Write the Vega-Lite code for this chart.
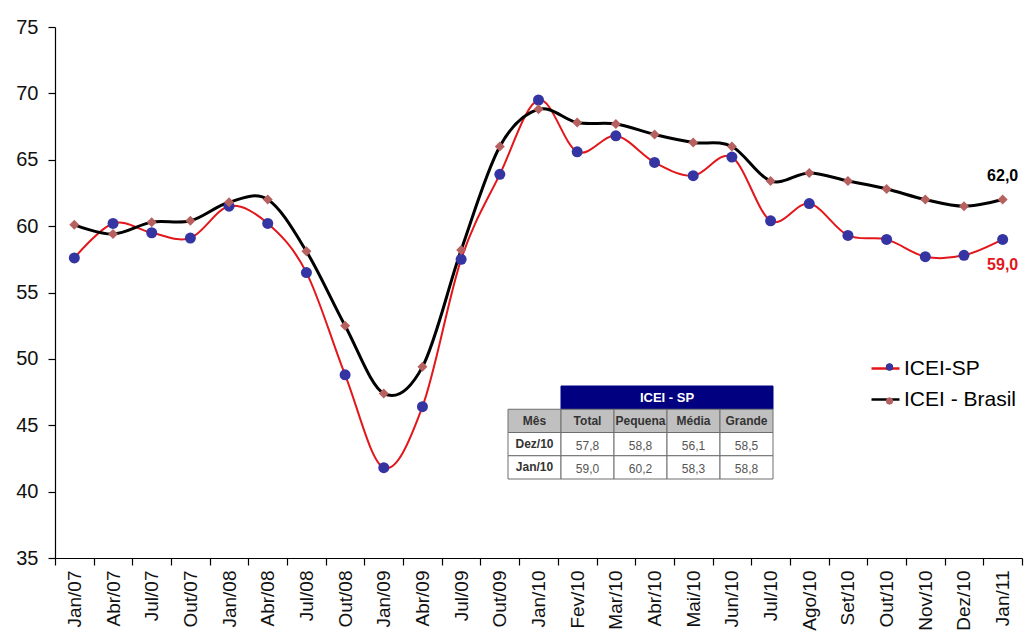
{
  "$schema": "https://vega.github.io/schema/vega-lite/v6.json",
  "width": 967,
  "height": 531,
  "autosize": {"type": "none"},
  "padding": {"left": 55, "top": 27, "right": 12, "bottom": 76},
  "background": "white",
  "config": {
    "view": {"stroke": null},
    "font": "Liberation Sans",
    "locale": {"number": {"decimal": ",", "thousands": ".", "grouping": [3], "currency": ["R$", ""]}}
  },
  "datasets": {
    "icei": [
      {"mes": "Jan/07", "serie": "ICEI-SP", "valor": 57.6},
      {"mes": "Abr/07", "serie": "ICEI-SP", "valor": 60.2},
      {"mes": "Jul/07", "serie": "ICEI-SP", "valor": 59.5},
      {"mes": "Out/07", "serie": "ICEI-SP", "valor": 59.1},
      {"mes": "Jan/08", "serie": "ICEI-SP", "valor": 61.5},
      {"mes": "Abr/08", "serie": "ICEI-SP", "valor": 60.2},
      {"mes": "Jul/08", "serie": "ICEI-SP", "valor": 56.5},
      {"mes": "Out/08", "serie": "ICEI-SP", "valor": 48.8},
      {"mes": "Jan/09", "serie": "ICEI-SP", "valor": 41.8},
      {"mes": "Abr/09", "serie": "ICEI-SP", "valor": 46.4},
      {"mes": "Jul/09", "serie": "ICEI-SP", "valor": 57.5},
      {"mes": "Out/09", "serie": "ICEI-SP", "valor": 63.9},
      {"mes": "Jan/10", "serie": "ICEI-SP", "valor": 69.5},
      {"mes": "Fev/10", "serie": "ICEI-SP", "valor": 65.6},
      {"mes": "Mar/10", "serie": "ICEI-SP", "valor": 66.8},
      {"mes": "Abr/10", "serie": "ICEI-SP", "valor": 64.8},
      {"mes": "Mai/10", "serie": "ICEI-SP", "valor": 63.8},
      {"mes": "Jun/10", "serie": "ICEI-SP", "valor": 65.2},
      {"mes": "Jul/10", "serie": "ICEI-SP", "valor": 60.4},
      {"mes": "Ago/10", "serie": "ICEI-SP", "valor": 61.7},
      {"mes": "Set/10", "serie": "ICEI-SP", "valor": 59.3},
      {"mes": "Out/10", "serie": "ICEI-SP", "valor": 59.0},
      {"mes": "Nov/10", "serie": "ICEI-SP", "valor": 57.7},
      {"mes": "Dez/10", "serie": "ICEI-SP", "valor": 57.8},
      {"mes": "Jan/11", "serie": "ICEI-SP", "valor": 59.0},
      {"mes": "Jan/07", "serie": "ICEI - Brasil", "valor": 60.1},
      {"mes": "Abr/07", "serie": "ICEI - Brasil", "valor": 59.4},
      {"mes": "Jul/07", "serie": "ICEI - Brasil", "valor": 60.3},
      {"mes": "Out/07", "serie": "ICEI - Brasil", "valor": 60.4},
      {"mes": "Jan/08", "serie": "ICEI - Brasil", "valor": 61.8},
      {"mes": "Abr/08", "serie": "ICEI - Brasil", "valor": 62.0},
      {"mes": "Jul/08", "serie": "ICEI - Brasil", "valor": 58.1},
      {"mes": "Out/08", "serie": "ICEI - Brasil", "valor": 52.5},
      {"mes": "Jan/09", "serie": "ICEI - Brasil", "valor": 47.4},
      {"mes": "Abr/09", "serie": "ICEI - Brasil", "valor": 49.4},
      {"mes": "Jul/09", "serie": "ICEI - Brasil", "valor": 58.2},
      {"mes": "Out/09", "serie": "ICEI - Brasil", "valor": 66.0},
      {"mes": "Jan/10", "serie": "ICEI - Brasil", "valor": 68.8},
      {"mes": "Fev/10", "serie": "ICEI - Brasil", "valor": 67.8},
      {"mes": "Mar/10", "serie": "ICEI - Brasil", "valor": 67.7},
      {"mes": "Abr/10", "serie": "ICEI - Brasil", "valor": 66.9},
      {"mes": "Mai/10", "serie": "ICEI - Brasil", "valor": 66.3},
      {"mes": "Jun/10", "serie": "ICEI - Brasil", "valor": 66.0},
      {"mes": "Jul/10", "serie": "ICEI - Brasil", "valor": 63.4},
      {"mes": "Ago/10", "serie": "ICEI - Brasil", "valor": 64.0},
      {"mes": "Set/10", "serie": "ICEI - Brasil", "valor": 63.4},
      {"mes": "Out/10", "serie": "ICEI - Brasil", "valor": 62.8},
      {"mes": "Nov/10", "serie": "ICEI - Brasil", "valor": 62.0},
      {"mes": "Dez/10", "serie": "ICEI - Brasil", "valor": 61.5},
      {"mes": "Jan/11", "serie": "ICEI - Brasil", "valor": 62.0}
    ],
    "tabela": [
      {"linha": "ICEI - SP", "coluna": "Total", "texto": ""},
      {"linha": "ICEI - SP", "coluna": "Pequena", "texto": ""},
      {"linha": "ICEI - SP", "coluna": "Média", "texto": "ICEI - SP"},
      {"linha": "ICEI - SP", "coluna": "Grande", "texto": ""},
      {"linha": "Mês", "coluna": "Mês", "texto": "Mês"},
      {"linha": "Mês", "coluna": "Total", "texto": "Total"},
      {"linha": "Mês", "coluna": "Pequena", "texto": "Pequena"},
      {"linha": "Mês", "coluna": "Média", "texto": "Média"},
      {"linha": "Mês", "coluna": "Grande", "texto": "Grande"},
      {"linha": "Dez/10", "coluna": "Mês", "texto": "Dez/10"},
      {"linha": "Dez/10", "coluna": "Total", "texto": "57,8"},
      {"linha": "Dez/10", "coluna": "Pequena", "texto": "58,8"},
      {"linha": "Dez/10", "coluna": "Média", "texto": "56,1"},
      {"linha": "Dez/10", "coluna": "Grande", "texto": "58,5"},
      {"linha": "Jan/10", "coluna": "Mês", "texto": "Jan/10"},
      {"linha": "Jan/10", "coluna": "Total", "texto": "59,0"},
      {"linha": "Jan/10", "coluna": "Pequena", "texto": "60,2"},
      {"linha": "Jan/10", "coluna": "Média", "texto": "58,3"},
      {"linha": "Jan/10", "coluna": "Grande", "texto": "58,8"}
    ]
  },
  "layer": [
    {
      "data": {"name": "icei"},
      "encoding": {
        "x": {
          "field": "mes", "type": "ordinal", "title": null, "bandPosition": 0.5,
          "sort": ["Jan/07","Abr/07","Jul/07","Out/07","Jan/08","Abr/08","Jul/08","Out/08","Jan/09","Abr/09","Jul/09","Out/09","Jan/10","Fev/10","Mar/10","Abr/10","Mai/10","Jun/10","Jul/10","Ago/10","Set/10","Out/10","Nov/10","Dez/10","Jan/11"],
          "scale": {"type": "band", "paddingInner": 0, "paddingOuter": 0},
          "axis": {
            "labelAngle": -90, "labelFontSize": 19, "labelColor": "#111111", "labelFont": "Liberation Sans",
            "labelPadding": 5, "labelOverlap": false, "tickBand": "extent", "tickSize": 7,
            "tickColor": "#000000", "domainColor": "#000000", "domainWidth": 1.2, "tickWidth": 1.2, "grid": false
          }
        },
        "y": {
          "field": "valor", "type": "quantitative", "title": null,
          "scale": {"domain": [35, 75], "nice": false, "zero": false},
          "axis": {
            "values": [35, 40, 45, 50, 55, 60, 65, 70, 75], "labelFontSize": 20, "labelColor": "#111111",
            "labelFont": "Liberation Sans", "labelPadding": 10, "tickSize": 7, "tickColor": "#000000",
            "domainColor": "#000000", "domainWidth": 1.2, "tickWidth": 1.2, "grid": false
          }
        }
      },
      "layer": [
        {
          "transform": [{"filter": "datum.serie == 'ICEI-SP'"}],
          "mark": {"type": "line", "interpolate": "cardinal", "strokeWidth": 2},
          "encoding": {
            "stroke": {
              "field": "serie", "type": "nominal",
              "scale": {"domain": ["ICEI-SP", "ICEI - Brasil"], "range": ["#E3161B", "#000000"]},
              "legend": {
                "orient": "none", "legendX": 815, "legendY": 326, "title": null, "symbolType": "stroke",
                "symbolSize": 784, "symbolStrokeWidth": 2.5, "labelFontSize": 21, "labelFont": "Liberation Sans",
                "labelColor": "#000000", "labelOffset": 3, "rowPadding": 5, "padding": 0
              }
            }
          }
        },
        {
          "transform": [{"filter": "datum.serie == 'ICEI - Brasil'"}],
          "mark": {"type": "line", "interpolate": "cardinal", "strokeWidth": 3},
          "encoding": {
            "stroke": {
              "field": "serie", "type": "nominal",
              "scale": {"domain": ["ICEI-SP", "ICEI - Brasil"], "range": ["#E3161B", "#000000"]}
            }
          }
        },
        {
          "mark": {"type": "point", "filled": true, "opacity": 1, "strokeWidth": 0},
          "encoding": {
            "fill": {
              "field": "serie", "type": "nominal", "sort": ["ICEI-SP", "ICEI - Brasil"],
              "scale": {"range": ["#3434A3", "#B76060"]},
              "legend": {
                "orient": "none", "legendX": 824, "legendY": 329.5, "title": null, "symbolSize": 50,
                "symbolStrokeWidth": 0, "labelFontSize": 21, "labelOpacity": 0, "rowPadding": 12, "padding": 0
              }
            },
            "shape": {
              "field": "serie", "type": "nominal", "sort": ["ICEI-SP", "ICEI - Brasil"],
              "scale": {"range": ["circle", "diamond"]},
              "legend": {
                "orient": "none", "legendX": 824, "legendY": 329.5, "title": null, "symbolSize": 50,
                "symbolStrokeWidth": 0, "labelFontSize": 21, "labelOpacity": 0, "rowPadding": 12, "padding": 0
              }
            },
            "size": {
              "field": "serie", "type": "nominal", "sort": ["ICEI-SP", "ICEI - Brasil"],
              "scale": {"range": [121, 100]},
              "legend": null
            }
          }
        },
        {
          "transform": [{"filter": "datum.serie == 'ICEI - Brasil' && datum.mes == 'Jan/11'"}],
          "mark": {"type": "text", "dy": -24, "fontSize": 16, "fontWeight": "bold", "color": "#000000", "baseline": "middle"},
          "encoding": {"text": {"field": "valor", "type": "quantitative", "format": ".1f"}}
        },
        {
          "transform": [{"filter": "datum.serie == 'ICEI-SP' && datum.mes == 'Jan/11'"}],
          "mark": {"type": "text", "dy": 26, "fontSize": 16, "fontWeight": "bold", "color": "#E3161B", "baseline": "middle"},
          "encoding": {"text": {"field": "valor", "type": "quantitative", "format": ".1f"}}
        }
      ]
    },
    {
      "data": {"name": "tabela"},
      "encoding": {
        "x": {
          "field": "coluna", "type": "nominal", "sort": ["Mês", "Total", "Pequena", "Média", "Grande"],
          "scale": {"type": "band", "range": [453, 718], "paddingInner": 0, "paddingOuter": 0},
          "axis": null
        },
        "y": {
          "field": "linha", "type": "nominal", "sort": ["ICEI - SP", "Mês", "Dez/10", "Jan/10"],
          "scale": {"type": "band", "range": [359, 452], "paddingInner": 0, "paddingOuter": 0},
          "axis": null
        }
      },
      "layer": [
        {
          "transform": [{"filter": "datum.linha == 'ICEI - SP'"}],
          "mark": {"type": "rect", "fill": "#000080", "stroke": "#000080", "strokeWidth": 1}
        },
        {
          "transform": [{"filter": "datum.linha == 'Mês'"}],
          "mark": {"type": "rect", "fill": "#C0C0C0", "stroke": "#6E6E6E", "strokeWidth": 1}
        },
        {
          "transform": [{"filter": "datum.linha == 'Dez/10' || datum.linha == 'Jan/10'"}],
          "mark": {"type": "rect", "fill": "#FFFFFF", "stroke": "#6E6E6E", "strokeWidth": 1}
        },
        {
          "transform": [{"filter": "datum.linha == 'ICEI - SP' && datum.texto != ''"}],
          "mark": {"type": "text", "fontSize": 13, "fontWeight": "bold", "color": "#FFFFFF", "font": "Liberation Sans"},
          "encoding": {
            "x": {"field": "coluna", "type": "nominal", "bandPosition": 0, "sort": ["Mês", "Total", "Pequena", "Média", "Grande"]},
            "text": {"field": "texto", "type": "nominal"}
          }
        },
        {
          "transform": [{"filter": "datum.linha == 'Mês' || (datum.coluna == 'Mês' && datum.linha != 'ICEI - SP')"}],
          "mark": {"type": "text", "fontSize": 12, "fontWeight": "bold", "color": "#333333", "font": "Liberation Sans"},
          "encoding": {"text": {"field": "texto", "type": "nominal"}}
        },
        {
          "transform": [{"filter": "(datum.linha == 'Dez/10' || datum.linha == 'Jan/10') && datum.coluna != 'Mês'"}],
          "mark": {"type": "text", "fontSize": 12, "color": "#555555", "dy": 2, "font": "Liberation Sans"},
          "encoding": {"text": {"field": "texto", "type": "nominal"}}
        }
      ]
    }
  ],
  "resolve": {"scale": {"x": "independent", "y": "independent"}}
}
